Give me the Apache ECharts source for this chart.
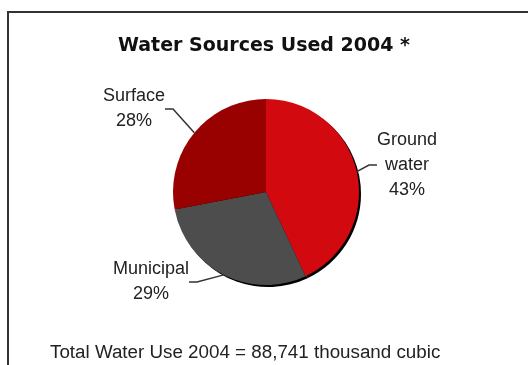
<!DOCTYPE html>
<html>
<head>
<meta charset="utf-8">
<script src="https://cdn.jsdelivr.net/npm/echarts@6/dist/echarts.min.js"></script>
<style>html,body{margin:0;padding:0;background:#fff;}#c{width:528px;height:365px;}</style>
</head>
<body>
<div id="c"></div>
<script>
const categories = ['Ground\nwater', 'Municipal', 'Surface'];
const values = [43, 29, 28];
const colors = ['#d20a10', '#4d4d4d', '#990000'];
const titleText = 'Water Sources Used 2004 *';
const footText = 'Total Water Use 2004 = 88,741 thousand cubic';

const labelPos = [
  {x: 407, y: 165},
  {x: 151, y: 282},
  {x: 134, y: 109}
];

const chart = echarts.init(document.getElementById('c'));
chart.setOption({
  animation: false,
  backgroundColor: '#fff',
  title: [
    {text: titleText, left: 'center', top: 32, textStyle: {fontFamily: 'DejaVu Sans', fontWeight: 'bold', fontSize: 19, color: '#111'}},
    {text: footText, left: 45, top: 338, textStyle: {fontFamily: 'Liberation Sans', fontWeight: 'normal', fontSize: 18.8, color: '#222'}}
  ],
  graphic: [
    {type: 'polyline', shape: {points: [[8, 400], [8, 12], [540, 12]]}, style: {stroke: '#333', lineWidth: 2, fill: null}, silent: true}
  ],
  series: [
    {
      type: 'pie', silent: true, z: 1,
      center: [268, 194], radius: 93, startAngle: 90, clockwise: true,
      label: {show: false}, labelLine: {show: false},
      itemStyle: {color: '#000', borderWidth: 0},
      data: values.map(v => ({value: v}))
    },
    {
      type: 'pie', z: 2,
      center: [266, 192], radius: 93, startAngle: 90, clockwise: true,
      itemStyle: {borderWidth: 0},
      data: categories.map((c, i) => ({name: c, value: values[i], itemStyle: {color: colors[i]}})),
      label: {
        show: true,
        formatter: p => p.name + '\n' + p.value + '%',
        fontFamily: 'Liberation Sans', fontSize: 18, color: '#222', lineHeight: 25, align: 'center'
      },
      labelLine: {show: true, lineStyle: {color: '#333', width: 1.5}, length: 10, length2: 8},
      labelLayout: p => ({x: labelPos[p.dataIndex].x, y: labelPos[p.dataIndex].y, align: 'center', verticalAlign: 'middle'})
    }
  ]
});
</script>
</body>
</html>
